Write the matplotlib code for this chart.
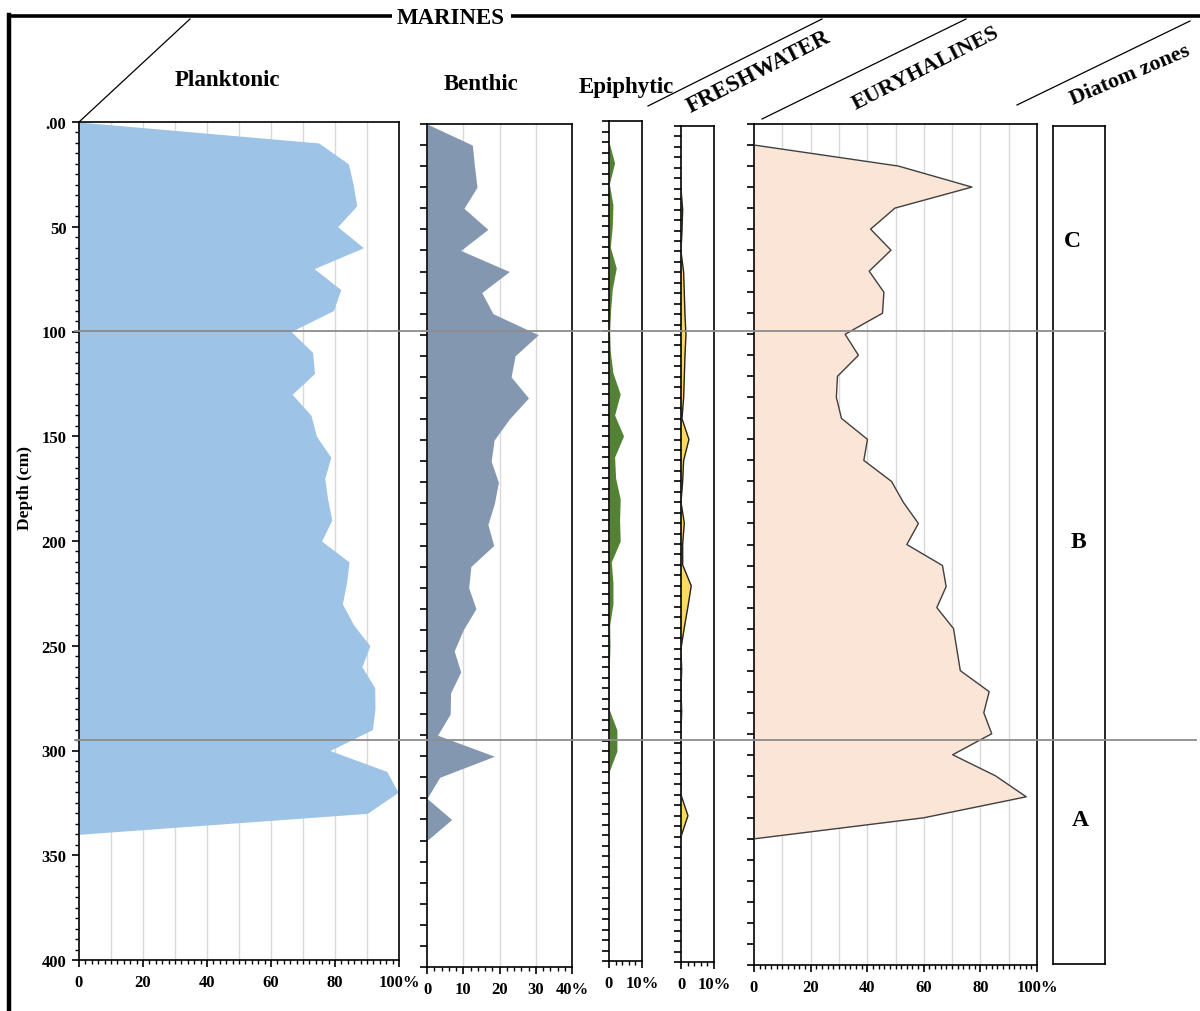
import numpy as np
import matplotlib.pyplot as plt
from matplotlib.lines import Line2D
from matplotlib.ticker import MultipleLocator

nan = np.nan

# depth of each sample (cm)
depth = list(range(0, 350, 10))

planktonic = [0, 74.9, 84.2, 85.7, 86.8, 80.8, 88.9, 73.5, 81.8, 79.5,
              66.3, 73.0, 73.6, 66.6, 72.5, 74.2, 78.7, 76.8, 77.7, 79.0,
              75.8, 84.4, 83.6, 82.3, 85.8, 90.9, 88.4, 92.4, 92.5, 91.7,
              78.4, 96.2, 99.7, 90.1, 0]
benthic = [0, 12.5, 13.1, 13.8, 10.2, 16.8, 9.3, 22.7, 15.1, 18.2,
           30.7, 24.3, 23.2, 28.0, 22.7, 18.5, 17.7, 19.7, 18.6, 16.8,
           18.4, 12.1, 11.5, 13.5, 10.0, 7.5, 9.3, 6.5, 6.4, 2.9,
           18.6, 3.5, 0, 6.8, 0]
epiphytic = [0, 0, 1.7, 0.1, 1.2, 1.0, 0.4, 2.2, 1.0, 0.5,
             0.2, 0.4, 1.2, 3.4, 1.7, 4.4, 1.7, 2.0, 3.4, 3.2,
             3.4, 0.7, 1.2, 1.2, 0.2, 0.3, 0.1, 0.1, 0, 2.4,
             2.4, 0, 0, 0, 0]
freshwater = [nan, nan, nan, 0, 0.5, 0.3, 0, 0.8, 1.0, 1.2,
              1.5, 1.2, 1.0, 0.8, 0.3, 2.4, 0.8, 0.5, 0, 1.0,
              0.5, 0.5, 3.1, 2.1, 1.0, 0, 0.2, 0, 0.2, 0,
              0, 0, 0, 2.1, 0]
euryhalines = [nan, 0, 51.0, 77.0, 49.8, 41.2, 48.4, 40.7, 45.9, 45.4,
               32.2, 36.9, 29.5, 29.1, 30.9, 40.1, 38.8, 48.6, 52.8, 58.1,
               54.0, 66.6, 67.9, 64.6, 70.5, 71.7, 72.9, 83.1, 81.2, 84.0,
               70.2, 85.3, 96.2, 59.9, 0]

zones = ['C', 'B', 'A']
depth_labels = ['.00', '50', '100', '150', '200', '250', '300', '350', '400']

W, H = 1200, 1012
plt.rcParams['font.family'] = 'Liberation Serif'
plt.rcParams['font.weight'] = 'bold'

fig = plt.figure(figsize=(W / 100, H / 100), dpi=100)


def box(x0, y0, x1, y1):
    # pixel box -> figure rect
    return [x0 / W, 1 - y1 / H, (x1 - x0) / W, (y1 - y0) / H]


def fline(x0, y0, x1, y1, **kw):
    fig.add_artist(Line2D([x0 / W, x1 / W], [1 - y0 / H, 1 - y1 / H],
                          transform=fig.transFigure, **kw))


def ftext(x, y, s, **kw):
    fig.text(x / W, 1 - y / H, s, ha='center', va='center',
             fontweight='bold', **kw)


def panel(rect, values, xmax, color, ytick, ticks, labels, edge=None,
          grid=True):
    ax = fig.add_axes(box(*rect))
    v = np.array(values, dtype=float)
    d = np.array(depth, dtype=float)
    ok = ~np.isnan(v)
    ax.fill_betweenx(d[ok], 0, v[ok], color=color, lw=0, zorder=2)
    if edge:
        ax.plot(v[ok], d[ok], color=edge, lw=1, zorder=3)
    ax.set_xlim(0, xmax)
    ax.set_ylim(400, 0)
    ax.set_xticks(ticks)
    ax.set_xticklabels(labels, fontweight='bold')
    ax.xaxis.set_minor_locator(MultipleLocator(2))
    if grid:
        for g in np.arange(10, xmax, 10):
            ax.axvline(g, color='#d9d9d9', lw=1, zorder=1)
    ax.yaxis.set_major_locator(MultipleLocator(ytick))
    ax.set_yticklabels([])
    ax.tick_params(axis='y', direction='out', length=5, width=1.2)
    ax.tick_params(axis='x', which='major', direction='out', length=5,
                   width=1.2, labelsize=12, pad=5)
    ax.tick_params(axis='x', which='minor', direction='out', length=3,
                   width=1)
    for s in ax.spines.values():
        s.set_linewidth(1.2)
    return ax


# Planktonic
ax = panel((79, 123, 399, 961), planktonic, 100, '#9dc3e6', 50,
           [0, 20, 40, 60, 80, 100], ['0', '20', '40', '60', '80', '100%'])
ax.set_yticks(np.arange(0, 401, 50))
ax.set_yticklabels(depth_labels, fontsize=12, fontweight='bold')
ax.yaxis.set_minor_locator(MultipleLocator(5))
ax.tick_params(axis='y', which='minor', direction='out', length=3, width=1)
ax.tick_params(axis='y', which='major', pad=4)

# Benthic
panel((427, 125, 572, 968), benthic, 40, '#8497b0', 10,
      [0, 10, 20, 30, 40], ['0', '10', '20', '30', '40%'])

# Epiphytic
panel((609, 122, 642, 962), epiphytic, 10, '#548235', 5,
      [0, 10], ['0', '10%'], grid=False)

# Freshwater
panel((681, 127, 714, 963), freshwater, 10, '#ffd966', 5,
      [0, 10], ['0', '10%'], edge='#222222', grid=False)

# Euryhalines
panel((754, 125, 1037, 966), euryhalines, 100, '#fbe5d6', 10,
      [0, 20, 40, 60, 80, 100], ['0', '20', '40', '60', '80', '100%'],
      edge='#404040')

# Diatom zones box
axz = fig.add_axes(box(1053, 127, 1105, 965))
axz.set_xticks([])
axz.set_yticks([])
for s in axz.spines.values():
    s.set_linewidth(1.2)
for name, (xp, yp) in zip(zones, [(1072, 242), (1078, 542), (1080, 821)]):
    ftext(xp, yp, name, fontsize=17)

ftext(25, 488, 'Depth (cm)', fontsize=12.5, rotation=90)

# zone boundaries
fline(75, 332, 1105, 332, color='#8c8c8c', lw=1.3, zorder=5)
fline(75, 741, 1196, 741, color='#8c8c8c', lw=1.3, zorder=5)

# outer frame
fline(9, 17, 1200, 17, color='black', lw=2.6)
fline(9, 16, 9, 1012, color='black', lw=3.2)
ftext(451, 18, 'MARINES', fontsize=16.5,
      bbox=dict(facecolor='white', edgecolor='none', pad=4))

# column headings
ftext(227, 81, 'Planktonic', fontsize=16.5)
ftext(481, 85, 'Benthic', fontsize=16.5)
ftext(626, 88, 'Epiphytic', fontsize=16.5)
ftext(759, 72, 'FRESHWATER', fontsize=16.5, rotation=27)
ftext(926, 69, 'EURYHALINES', fontsize=16, rotation=27)
ftext(1130, 75, 'Diatom zones', fontsize=16, rotation=23)

# slanted header lines
fline(79, 123, 190, 20, color='black', lw=0.9)
fline(648, 107, 822, 20, color='black', lw=0.9)
fline(762, 120, 966, 20, color='black', lw=0.9)
fline(1017, 106, 1190, 22, color='black', lw=0.9)

fig.savefig('out.png', dpi=100)
